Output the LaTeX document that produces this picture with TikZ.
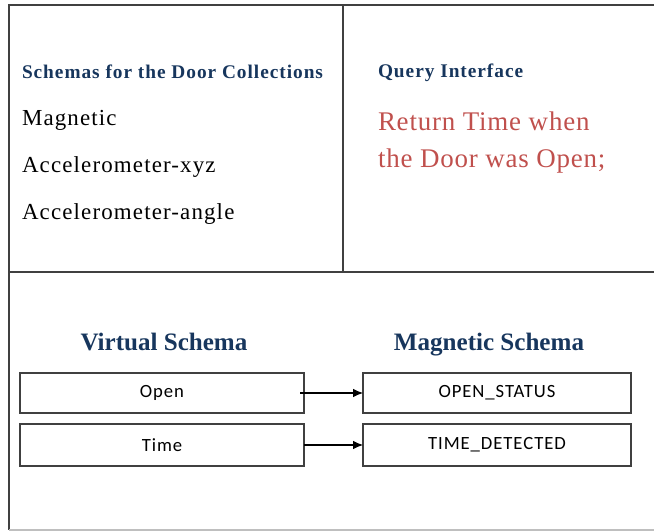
\documentclass[tikz,border=0pt]{standalone}
\usepackage{fontspec}
\setmainfont{Liberation Serif}
\newfontfamily\boxfont{Carlito}
\usetikzlibrary{arrows.meta}
\definecolor{navy}{RGB}{23,54,93}
\definecolor{qred}{RGB}{192,80,77}
\begin{document}
\begin{tikzpicture}[x=0.75pt, y=-0.75pt, every node/.style={inner sep=0pt, outer sep=0pt}]
\useasboundingbox (0,0) rectangle (654,531);
% --- frame ---
\draw[line width=1.3pt, black!75] (654,5) -- (9,5) -- (9,530);
\draw[line width=1.3pt, black!75] (343,5) -- (343,272);
\draw[line width=1.3pt, black!75] (9,272) -- (654,272);
\draw[line width=1pt, black!25] (9,530) -- (654,530);
% --- collections ---
\begin{scope}[every node/.append style={anchor=base west}]
    \node[font=\bfseries\fontsize{14.5}{17}\selectfont\addfontfeature{LetterSpace=5}, text=navy] (coll) at (22,79) {Schemas for the Door Collections};
    \node[font=\fontsize{17.2}{20}\selectfont\addfontfeature{LetterSpace=5}] (mag) at (22,126) {Magnetic};
    \node[font=\fontsize{17.2}{20}\selectfont\addfontfeature{LetterSpace=5}] (axyz) at (22,173) {Accelerometer-xyz};
    \node[font=\fontsize{17.2}{20}\selectfont\addfontfeature{LetterSpace=5}] (aang) at (22,220) {Accelerometer-angle};
\end{scope}
% --- query ---
\begin{scope}[every node/.append style={anchor=base west}]
    \node[font=\bfseries\fontsize{14.5}{17}\selectfont\addfontfeature{LetterSpace=5}, text=navy] (qi) at (378,78) {Query Interface};
    \node[font=\fontsize{20.2}{23}\selectfont\addfontfeature{LetterSpace=3}, text=qred] (ret) at (378,131) {Return Time when};
    \node[font=\fontsize{20.2}{23}\selectfont\addfontfeature{LetterSpace=3}, text=qred] (door) at (378,168) {the Door was Open;};
\end{scope}
% --- mapping ---
\begin{scope}
    \tikzset{fld/.style={draw=black!75, line width=0.8pt, minimum height=30pt, font=\boxfont\fontsize{14}{16}\selectfont\addfontfeature{LetterSpace=5}},
             hdr/.style={anchor=base, text=navy, font=\bfseries\fontsize{18.8}{22}\selectfont}}
    \node[hdr] (vs) at (164,350) {Virtual Schema};
    \node[hdr] (ms) at (489,350) {Magnetic Schema};
    \node[fld, minimum width=213pt] (open) at (162,393) {Open};
    \node[fld, minimum width=213pt, minimum height=31.5pt] (time) at (162,445) {Time};
    \node[fld, minimum width=201pt] (ostat) at (497,393) {OPEN\_STATUS};
    \node[fld, minimum width=201pt, minimum height=31.5pt] (tdet) at (497,445) {TIME\_DETECTED};
    \draw[-{Latex[length=7.5pt,width=6.5pt]}, line width=0.8pt] ([xshift=-3pt]open.east) -- (ostat.west);
    \draw[-{Latex[length=7.5pt,width=6.5pt]}, line width=0.8pt] (time.east) -- (tdet.west);
\end{scope}
\end{tikzpicture}
\end{document}
